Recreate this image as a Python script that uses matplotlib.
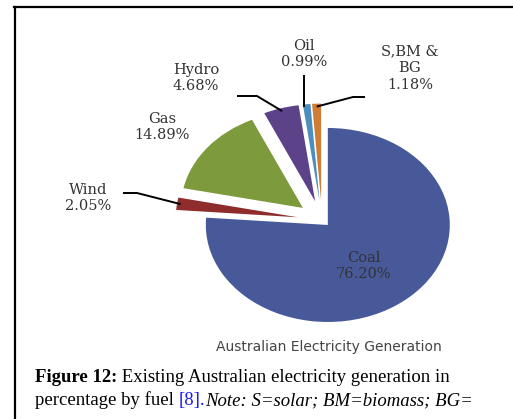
import matplotlib.pyplot as plt
import numpy as np
from matplotlib.lines import Line2D

# ── data ────────────────────────────────────────────
fuels = ["Coal", "Wind", "Gas", "Hydro", "Oil", "S,BM &\nBG"]
shares = [76.20, 2.05, 14.89, 4.68, 0.99, 1.18]
colors = ["#48599a", "#8e2d2c", "#7d9a3c", "#5c4288", "#4b8fbf", "#cf7c34"]
explode = [0.07, 0.2, 0.2, 0.2, 0.2, 0.2]

title = "Australian Electricity Generation"

W, H = 513, 419
fig = plt.figure(figsize=(W / 100, H / 100), dpi=100)

# ── frame of the screenshot ─────────────────────────
fig.add_artist(Line2D([14 / W, 1], [1 - 7.5 / H] * 2, color="black", lw=1.6))
fig.add_artist(Line2D([14.5 / W] * 2, [0, 1 - 7 / H], color="black", lw=1.6))

# ── pie: axes fill the figure, data unit = pie radius ─
cx, cy, rx, ry = 322, 220, 122, 97


def px(x, y):
    # pixel position (from top-left) -> data coords
    return (x - cx) / rx, (cy - y) / ry


ax = fig.add_axes([0, 0, 1, 1])
wedges, _ = ax.pie(shares, colors=colors, explode=explode, startangle=90,
                   counterclock=False, radius=1, wedgeprops=dict(linewidth=0))
ax.set_aspect("auto")
ax.set_xlim(-cx / rx, (W - cx) / rx)
ax.set_ylim((cy - H) / ry, cy / ry)
ax.axis("off")


def rim(w, r=1.0):
    t = np.deg2rad((w.theta1 + w.theta2) / 2)
    return (w.center[0] + r * w.r * np.cos(t),
            w.center[1] + r * w.r * np.sin(t))


label_kw = dict(ha="center", va="center", fontsize=10.5, color="#333333",
                family="DejaVu Serif", linespacing=1.25)

# label centres (pixels) and leader-line points (start, elbow)
label_at = [(364, 266), (88, 198), (162, 127), (196, 78), (304, 54), (410, 68)]
leaders = [None,
           [(123, 193), (137, 193)],
           None,
           [(237, 96), (257, 96)],
           [(304, 75)],
           [(365, 97), (353, 97)]]

for i, (w, name, val) in enumerate(zip(wedges, fuels, shares)):
    ax.text(*px(*label_at[i]), f"{name}\n{val:.2f}%", **label_kw)
    if leaders[i]:
        pts = [px(*p) for p in leaders[i]]
        end = rim(w, 0.97)
        if len(pts) == 1:
            end = (pts[0][0], end[1])
        pts.append(end)
        xs, ys = zip(*pts)
        ax.plot(xs, ys, color="black", lw=1.4, solid_capstyle="butt")

ax.text(*px(329, 347), title, ha="center", va="center", fontsize=10,
        color="#444444", family="DejaVu Sans")

# ── caption ─────────────────────────────────────────
renderer = fig.canvas.get_renderer()
cap_lines = [
    [("Figure 12:", dict(weight="bold")),
     (" Existing Australian electricity generation in", {})],
    [("percentage by fuel ", {}),
     ("[8].", dict(color="#1a1aff")),
     ("Note: S=solar; BM=biomass; BG=", dict(style="italic"))],
]
for base_y, pieces in zip([382, 405], cap_lines):
    x = 35
    for txt, kw in pieces:
        t = fig.text(x / W, 1 - base_y / H, txt, va="baseline", ha="left",
                     fontsize=13.5, family="Liberation Serif",
                     color=kw.pop("color", "black"), **kw)
        x += t.get_window_extent(renderer).width

fig.savefig("out.png", dpi=100)
